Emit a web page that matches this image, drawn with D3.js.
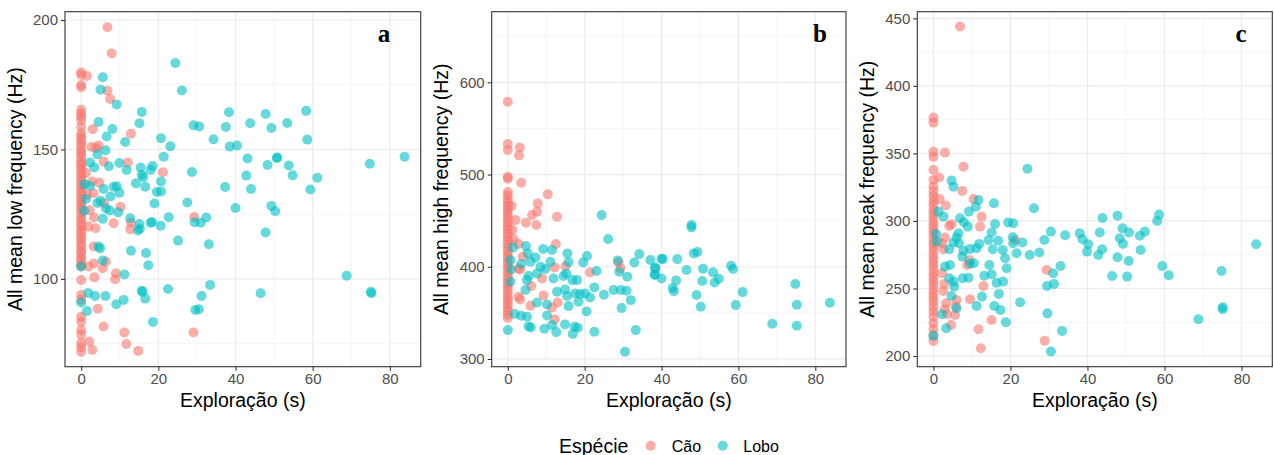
<!DOCTYPE html>
<html><head><meta charset="utf-8">
<script src="https://cdn.jsdelivr.net/npm/d3@7"></script>
<style>body{margin:0;background:#fff} svg{display:block}</style>
</head><body><svg id="chart" width="1274" height="455"></svg>
<script>
// ---------- data ----------
const species = ["Cão", "Lobo"];
const xTicks = [0, 20, 40, 60, 80];
const xMinor = [10, 30, 50, 70];
const xDomain = [-4.19, 87.99];

const yTicksA = [100, 150, 200], yMinorA = [75, 125, 175];
const yTicksB = [300, 400, 500, 600], yMinorB = [350, 450, 550, 650];
const yTicksC = [200, 250, 300, 350, 400, 450], yMinorC = [225, 275, 325, 375, 425];

const yTitles = ["All mean low frequency (Hz)", "All mean high frequency (Hz)", "All mean peak frequency (Hz)"];
const panelLabels = ["a", "b", "c"];
const xTitle = "Exploração (s)";

// Panel a : [exploration s, Hz]
const caoA = [
 [0,179.7],[0,178.8],[0,174.9],[0,174],[0,165.3],[0,164],[0,162.7],[0,161.4],[0,158.8],[0,156.2],[0,155],[0,153.7],
 [0,152.4],[0,151.1],[0,149.5],[0,148.5],[0,147.2],[0,145.6],[0,144.7],[0,143.4],[0,142.3],[0,140.8],[0,139.3],[0,138.2],
 [0,136.6],[0,135.6],[0,134.1],[0,133.1],[0,131.5],[0,130.5],[0,129],[0,127.9],[0,126.8],[0,125.4],[0,123.8],[0,122.8],
 [0,121.3],[0,120.2],[0,118.7],[0,117.6],[0,116.2],[0,115.1],[0,113.5],[0,112.5],[0,111],[0,109.9],[0,108.4],[0,107.3],
 [0,105.8],[0,104.8],[0,99.6],[0,93.8],[0,92],[0,85.4],[0,83.5],[0,80.3],[0,78.4],[0,75.2],[0,73.6],[0,71.9],
 [1.5,178.4],[6.8,197.2],[7.9,187.1],[6.8,172.7],[7.5,169.5],[3.0,157.8],[2.7,151],[4.5,151.5],[3.9,150.5],[5.8,145.3],
 [12.9,156.1],[12.1,145],[21.2,141.2],[2.8,137.6],[4.7,137.2],[3.2,133.1],[5.9,129.2],[10.2,127.9],[3.3,123.7],[8.4,121.5],
 [3.7,119.6],[1.9,120.2],[12.9,121.7],[12.7,119.2],[29.3,123.9],[3.2,112.5],[3.3,106],[1.9,104.8],[6.4,106.7],[5.6,104.1],
 [3.4,100.6],[9.0,102.2],[8.8,99.9],[4.3,88.5],[5.8,81.6],[11.2,79.3],[11.7,74.9],[14.8,72.2],[2.1,75.8],[2.9,72.6],
 [29.1,79.3],[1.2,141],[1.6,132.5],[2.2,126.5]
];
const loboA = [
 [24.4,183.4],[26.1,172.8],[5.6,177.9],[5.0,173.1],[9.2,167.4],[15.7,164.5],[15.1,160.1],[4.5,160.6],[8.1,157.9],[6.6,155],
 [11.4,152.9],[20.7,154.3],[23.1,151.2],[21.4,147.2],[6.3,149.7],[4.2,148.1],[2.3,145],[3.4,143],[7.2,143.5],[9.9,144.8],
 [11.8,142.1],[15.4,143],[18.5,143.6],[18.0,142.1],[15.7,140.2],[16.1,139.3],[14.2,136.9],[20.7,137.6],[16.6,135.6],[19.6,133.6],
 [20.7,133.8],[0.9,136.6],[2.3,135.9],[8.4,135.6],[9.2,135.8],[9.9,133.3],[7.6,131.8],[5.8,134.7],[1.2,130.9],[4.2,129.3],
 [0.8,126.3],[5.0,130.2],[6.4,127.3],[7.4,126.4],[9.6,125.7],[19.0,129.1],[27.5,129.5],[5.6,123.2],[12.7,123.4],[15.1,121.2],
 [18.0,121.7],[18.4,122],[20.6,120.5],[22.7,123.8],[29.4,121.9],[31.0,121.7],[32.4,123.7],[14.7,118.7],[15.2,119.4],[25.1,114.8],
 [33.1,113.4],[4.5,112.5],[4.9,111.8],[12.9,110.9],[16.8,110],[17.4,105.3],[5.6,107.1],[11.2,101.7],[0,104.8],[1.8,94.6],
 [3.6,93.4],[6.3,93.4],[9.1,90.2],[11.0,91.9],[15.7,95.4],[15.9,95],[16.6,92.4],[22.5,96.1],[29.6,88],[30.5,88.3],
 [31.2,93.4],[33.4,97.7],[18.6,83.4],[1.5,87.6],[0,90.9],[68.8,101.2],[46.5,94.5],[75.1,95],[75.2,94.5],[74.8,144.5],
 [83.8,147.2],[58.3,164.9],[58.6,153.8],[47.8,163.7],[49.3,158.3],[43.8,160.1],[38.3,164.4],[37.5,158.7],[38.5,151.1],[40.4,151.5],
 [34.3,153.9],[29.1,159.3],[30.6,158.9],[53.4,160.2],[43.1,146.5],[48.3,144],[50.7,146.7],[50.8,146.9],[53.8,143.8],[54.8,140],
 [61.2,139.1],[59.4,134.5],[42.8,139.9],[44.0,134.7],[37.3,135.5],[28.7,141.3],[40.0,127.4],[49.3,128.2],[50.3,126.1],[47.8,117.9]
];

// Panel b
const caoB = [
 [0,579],[0,533],[0,526.5],[0,497.6],[0,495.4],[0,481],[0,477.5],[0,473],[0,469.5],[0,466],[0,462],[0,458.5],[0,455],
 [0,451],[0,447.5],[0,443.5],[0,440],[0,436],[0,432.5],[0,428.5],[0,424.5],[0,421],[0,417],[0,413],[0,409.5],[0,405.5],
 [0,401.5],[0,398],[0,394],[0,390],[0,386.5],[0,382.5],[0,378.5],[0,375],[0,371],[0,367],[0,363.5],[0,359.5],[0,355.5],
 [0,352],[0,348],[0,344.7],
 [3.1,529.4],[2.9,520.8],[3.5,491.1],[10.4,478.5],[7.8,468.7],[7.6,459.7],[6.3,456],[4.7,447.7],[7.4,445.2],[12.8,454.2],
 [1.0,465.8],[2.0,450.6],[2.8,424.6],[12.5,424.6],[3.9,410.8],[2.8,398.2],[3.2,397],[12.2,399.3],[8.9,387.3],[21.4,393.9],
 [28.8,405],[29.3,398.2],[6.1,379],[2.8,367.5],[3.2,364.5],[9.3,368.9],[5.9,357.7],[13.0,361.3],[11.5,355.9],[12.2,342.9],
 [1.2,440],[1.5,430],[15.0,400.5]
];
const loboB = [
 [24.4,456],[26.1,430],[4.7,422.4],[1.4,421],[5.2,414.5],[9.2,419.2],[11.5,418.1],[15.5,414.5],[15.8,405],[20.6,411.6],
 [19.6,404.7],[28.6,406.9],[32.9,404.7],[34.2,413.7],[37.1,407.2],[40.0,408.7],[38.3,399.3],[38.3,391],[40.0,387.3],[31.1,389.2],
 [29.0,394.6],[23.1,395.3],[0.7,407.2],[0.9,397.1],[0.7,383.7],[3.5,402.9],[5.9,405.4],[7.2,410.1],[8.5,400],[9.8,397.5],
 [11.1,405.4],[11.9,387.3],[14.5,389.9],[15.2,392.8],[16.8,385.5],[18.0,385.5],[5.4,389.9],[5.0,385.5],[7.6,392.8],[4.6,374.7],
 [12.8,372.9],[14.9,375.4],[15.4,368.2],[17.5,371.1],[18.8,370.4],[20.1,371.1],[21.4,366.7],[22.5,377.6],[25.0,369.6],[27.5,374.7],
 [29.4,374.7],[30.9,374],[32.0,363.8],[29.6,355.2],[7.6,361.3],[10.2,359.1],[15.8,357.3],[18.4,362],[20.5,351.6],[10.2,347.2],
 [1.8,348.7],[3.5,346.9],[5.0,345.8],[5.4,335.3],[6.0,334.2],[9.5,332.8],[12.6,329.1],[14.9,337.5],[17.4,334.9],[18.2,333.8],
 [16.9,327],[22.5,329.5],[0,331.3],[33.3,331.3],[30.5,307.8],[11.5,336.7],
 [47.8,445.2],[47.8,442.7],[48.4,414.5],[49.3,415.9],[40.3,408.3],[44.1,408.3],[38.4,398.2],[38.2,391.7],[46.5,396.4],[50.8,397.8],
 [53.4,393.9],[54.9,387],[53.8,383],[50.6,384.5],[43.8,385.2],[42.9,376.9],[43.2,373.6],[58.1,401.1],[58.6,397.5],[61.1,372.5],
 [49.1,369.3],[50.2,356.6],[59.3,358.4],[68.8,338.2],[74.8,381.2],[75.2,358.8],[75.2,336],[83.8,361]
];

// Panel c
const caoC = [
 [0,376.5],[0,372.8],[0,351.3],[0,347.6],[0,337.8],[0,330.4],[0,325.5],[0,322],[0,318.5],[0,315],[0,312],[0,308.5],
 [0,305.5],[0,302.5],[0,299],[0,296],[0,293],[0,290],[0,286.5],[0,283.5],[0,280.5],[0,277.5],[0,274],[0,271],[0,268],
 [0,265],[0,261.5],[0,258.5],[0,255.5],[0,252.5],[0,249],[0,246],[0,243],[0,240],[0,236.5],[0,233],[0,229],[0,224.2],
 [0,220],[0,215.5],[0,211.2],
 [6.9,443.9],[3.0,350.6],[7.8,340.2],[1.5,332.1],[7.5,322.2],[10.4,316.3],[3.2,311.4],[1.6,316.3],[12.5,303.2],[12.1,295.8],
 [4.7,297.5],[4.1,296.3],[21.2,285.9],[3.0,287.7],[2.2,283.5],[2.6,279],[9.3,271.1],[8.8,267.4],[29.4,263.7],[2.2,261.3],
 [2.8,253.4],[2.6,248.2],[13.0,251.9],[9.5,242],[6.0,241.5],[3.3,239],[3.0,234.6],[5.8,236.6],[3.5,230.9],[5.6,230.4],
 [4.6,223],[15.1,226.7],[11.7,219.8],[12.3,205.7],[28.9,211.4]
];
const loboC = [
 [24.4,338.7],[26.1,309.4],[4.7,329.9],[5.2,325.4],[1.3,306.9],[2.6,303.2],[11.7,315.5],[11.0,310.6],[15.7,313.1],[16.0,297.8],
 [19.4,298.8],[20.7,298.3],[6.9,302],[7.9,299],[9.2,306.9],[8.9,295.8],[6.5,290.9],[6.0,287.7],[5.2,284],[4.1,279],
 [6.6,283.5],[9.5,279.3],[7.5,273.6],[7.8,278],[11.9,283],[14.3,285.9],[15.1,291.4],[16.8,285.4],[15.4,279],[18.0,278.5],
 [18.6,272.4],[19.0,265],[20.6,287.9],[20.7,283.5],[21.6,276.1],[23.1,284],[25.0,274.8],[27.5,276.6],[28.8,285.9],[30.5,292.1],
 [34.2,289.4],[31.1,261.3],[33.0,266.7],[31.3,253.4],[29.5,251.9],[29.6,231.6],[33.4,218.6],[30.5,203.3],[22.5,239.8],[17.0,246],
 [18.8,225],[17.4,234.1],[15.8,237.1],[11.2,237.1],[12.6,244],[13.2,259.5],[15.1,260.5],[16.4,254.3],[18.1,255.1],[14.5,267.4],
 [10.5,268.7],[9.5,268.5],[7.6,257.6],[9.1,258],[5.2,255.1],[5.4,251.4],[4.1,257.6],[4.7,244.5],[6.0,235.4],[2.2,230.9],
 [3.3,220.5],[0,214.9],[0.9,284.7],[0.7,290.4],[11.2,279.8],[4.3,267.4],[3.0,266.2],
 [38.0,290.9],[38.7,286.4],[40.2,282.7],[39.9,277.3],[43.9,302.2],[43.2,291.4],[43.8,279],[42.8,274.8],[47.8,303.9],[49.1,294.6],
 [50.8,291.4],[48.4,287.2],[49.2,283],[47.8,273.1],[50.7,270.4],[46.4,259.3],[50.3,258.8],[53.6,289.1],[54.9,292.1],[53.8,278.5],
 [58.6,304.7],[58.1,300],[59.4,266.7],[61.1,259.8],[74.8,263],[75.1,236.1],[75.1,234.6],[68.8,227.2],[83.8,282.7]
];

// ---------- layout / style ----------
const colors = {"Cão": "#F8766D", "Lobo": "#00BFC4"};
const pTop = 11.7, pBottom = 366.7;
const panels = [
  {left: 65, right: 420.7, yDomain: [66.1, 203.2], yTicks: yTicksA, yMinor: yMinorA, cao: caoA, lobo: loboA, labelX: 384},
  {left: 491.7, right: 846, yDomain: [291.6, 676.6], yTicks: yTicksB, yMinor: yMinorB, cao: caoB, lobo: loboB, labelX: 820},
  {left: 917.3, right: 1272.3, yDomain: [192.1, 454.9], yTicks: yTicksC, yMinor: yMinorC, cao: caoC, lobo: loboC, labelX: 1241}
];
const FONT = '"Liberation Sans", Arial, Helvetica, sans-serif';

const svg = d3.select("#chart");
svg.append("rect").attr("width", 1274).attr("height", 455).attr("fill", "#fff");

panels.forEach((p, i) => {
  const x = d3.scaleLinear().domain(xDomain).range([p.left, p.right]);
  const y = d3.scaleLinear().domain(p.yDomain).range([pBottom, pTop]);
  const g = svg.append("g");

  // minor grid
  g.selectAll(".gx2").data(xMinor).join("line")
    .attr("x1", d => x(d)).attr("x2", d => x(d)).attr("y1", pTop).attr("y2", pBottom)
    .attr("stroke", "#F0F0F0").attr("stroke-width", 0.7);
  g.selectAll(".gy2").data(p.yMinor).join("line")
    .attr("y1", d => y(d)).attr("y2", d => y(d)).attr("x1", p.left).attr("x2", p.right)
    .attr("stroke", "#F0F0F0").attr("stroke-width", 0.7);
  // major grid
  g.selectAll(".gx").data(xTicks).join("line")
    .attr("x1", d => x(d)).attr("x2", d => x(d)).attr("y1", pTop).attr("y2", pBottom)
    .attr("stroke", "#EBEBEB").attr("stroke-width", 1.2);
  g.selectAll(".gy").data(p.yTicks).join("line")
    .attr("y1", d => y(d)).attr("y2", d => y(d)).attr("x1", p.left).attr("x2", p.right)
    .attr("stroke", "#EBEBEB").attr("stroke-width", 1.2);

  // points
  g.selectAll(".pc").data(p.cao).join("circle")
    .attr("cx", d => x(d[0])).attr("cy", d => y(d[1])).attr("r", 5)
    .attr("fill", colors["Cão"]).attr("fill-opacity", 0.6);
  g.selectAll(".pl").data(p.lobo).join("circle")
    .attr("cx", d => x(d[0])).attr("cy", d => y(d[1])).attr("r", 5)
    .attr("fill", colors["Lobo"]).attr("fill-opacity", 0.6);

  // border
  g.append("rect").attr("x", p.left).attr("y", pTop)
    .attr("width", p.right - p.left).attr("height", pBottom - pTop)
    .attr("fill", "none").attr("stroke", "#333333").attr("stroke-width", 1.1);

  // axes
  const xa = g.append("g").attr("transform", `translate(0,${pBottom})`)
    .call(d3.axisBottom(x).tickValues(xTicks).tickSize(4).tickPadding(3));
  const ya = g.append("g").attr("transform", `translate(${p.left},0)`)
    .call(d3.axisLeft(y).tickValues(p.yTicks).tickSize(4).tickPadding(3));
  [xa, ya].forEach(a => {
    a.select(".domain").remove();
    a.selectAll(".tick line").attr("stroke", "#333333").attr("stroke-width", 1.1);
    a.selectAll(".tick text").attr("fill", "#4D4D4D")
      .style("font-family", FONT).style("font-size", "15px");
  });

  // titles
  g.append("text").attr("x", (p.left + p.right) / 2).attr("y", 407)
    .attr("text-anchor", "middle").style("font-family", FONT).style("font-size", "19.5px")
    .attr("fill", "#000").text(xTitle);
  const yx = p.left - 43.5, yc = (pTop + pBottom) / 2;
  g.append("text").attr("transform", `translate(${yx},${yc}) rotate(-90)`)
    .attr("text-anchor", "middle").style("font-family", FONT).style("font-size", "19.5px")
    .attr("fill", "#000").text(yTitles[i]);

  // panel label
  g.append("text").attr("x", p.labelX).attr("y", 42).attr("text-anchor", "middle")
    .style("font-family", '"Liberation Serif", "Times New Roman", serif').style("font-size", "25px")
    .style("font-weight", "bold").attr("fill", "#000").text(panelLabels[i]);
});

// legend
const lg = svg.append("g");
lg.append("text").attr("x", 559).attr("y", 452.5).style("font-family", FONT).style("font-size", "19.5px")
  .attr("fill", "#000").text("Espécie");
const legendPos = [{cx: 650.7, tx: 671.7}, {cx: 722.7, tx: 743.3}];
lg.selectAll(".lc").data(species).join("circle")
  .attr("cx", (d, i) => legendPos[i].cx).attr("cy", 445.7).attr("r", 5)
  .attr("fill", d => colors[d]).attr("fill-opacity", 0.6);
lg.selectAll(".lt").data(species).join("text")
  .attr("x", (d, i) => legendPos[i].tx).attr("y", 451.5)
  .style("font-family", FONT).style("font-size", "16px").attr("fill", "#000").text(d => d);
</script></body></html>
